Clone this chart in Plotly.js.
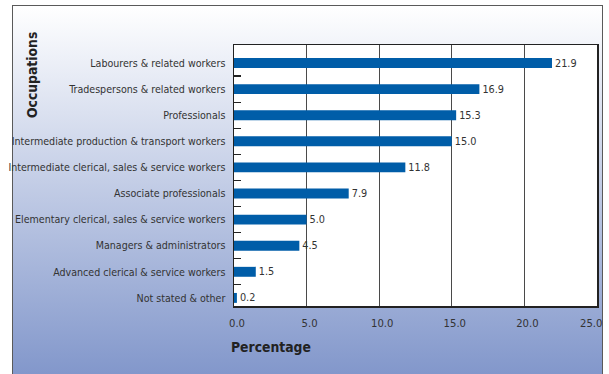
<!DOCTYPE html>
<html>
<head>
<meta charset="utf-8">
<script src="https://cdn.plot.ly/plotly-3.0.1.min.js"></script>
<style>
  html, body { margin: 0; padding: 0; background: #ffffff; width: 609px; height: 374px; overflow: hidden; }
  #frame { position: absolute; left: 12px; top: 5px; width: 591px; height: 380px;
           border: 1.5px solid #5a5a5a; box-sizing: border-box;
           background: linear-gradient(to bottom, #ffffff 0px, #8297cb 369px); }
  #chart { position: absolute; left: 0; top: 0; width: 609px; height: 374px; }
</style>
</head>
<body>
<div id="frame"></div>
<div id="chart"></div>
<script>
const categories = [
  "Labourers & related workers",
  "Tradespersons & related workers",
  "Professionals",
  "Intermediate production & transport workers",
  "Intermediate clerical, sales & service workers",
  "Associate professionals",
  "Elementary clerical, sales & service workers",
  "Managers & administrators",
  "Advanced clerical & service workers",
  "Not stated & other"
];
const percentages = [21.9, 16.9, 15.3, 15.0, 11.8, 7.9, 5.0, 4.5, 1.5, 0.2];
const xTickVals = [0, 5, 10, 15, 20, 25];
const xTickText = ["0.0", "5.0", "10.0", "15.0", "20.0", "25.0"];
const xTitle = "Percentage";
const yTitle = "Occupations";

const FONT = "'DejaVu Sans Condensed', 'DejaVu Sans', sans-serif";
const lastTick = xTickVals.length - 1;

const trace = {
  type: "bar",
  orientation: "h",
  y: categories,
  x: percentages,
  width: 0.38,
  marker: { color: "#005da8", line: { width: 0 } },
  text: percentages.map(v => v.toFixed(1)),
  textposition: "outside",
  constraintext: "none",
  cliponaxis: false,
  textfont: { family: FONT, size: 10.8, color: "#333333" },
  hoverinfo: "none"
};

const layout = {
  width: 609,
  height: 374,
  margin: { l: 234, r: 12, t: 45, b: 68 },
  paper_bgcolor: "rgba(0,0,0,0)",
  plot_bgcolor: "#ffffff",
  showlegend: false,
  font: { family: FONT, size: 11, color: "#333333" },
  xaxis: {
    range: [0, 25],
    tickmode: "array",
    tickvals: xTickVals,
    // last label is drawn as an annotation so it stays inside the frame
    ticktext: xTickText.map((t, i) => (i === lastTick ? "" : t)),
    ticks: "",
    showgrid: true,
    gridcolor: "#4a4a4a",
    gridwidth: 1,
    zeroline: false,
    showline: true,
    linecolor: "#222222",
    linewidth: 1.5,
    mirror: true,
    tickfont: { family: FONT, size: 11.2, color: "#333333" },
    ticklabelstandoff: 6,
    ticklabelshift: 3
  },
  yaxis: {
    type: "category",
    categoryorder: "array",
    categoryarray: categories,
    range: [9.31, -0.69],
    autorange: false,
    ticks: "",
    minor: {
      tickmode: "array",
      tickvals: [0.5, 1.5, 2.5, 3.5, 4.5, 5.5, 6.5, 7.5, 8.5],
      ticks: "inside",
      ticklen: 7,
      tickwidth: 1.2,
      tickcolor: "#222222",
      showgrid: false
    },
    showgrid: false,
    zeroline: false,
    showline: true,
    linecolor: "#222222",
    linewidth: 1.5,
    mirror: true,
    tickfont: { family: FONT, size: 10.6, color: "#333333" },
    ticklabelstandoff: 5
  },
  annotations: [
    {
      text: xTickText[lastTick], xref: "x", yref: "paper",
      x: xTickVals[lastTick], y: 0, xanchor: "right", yanchor: "top",
      xshift: 7, yshift: -9,
      showarrow: false,
      font: { family: FONT, size: 11.2, color: "#333333" }
    },
    {
      text: xTitle, xref: "paper", yref: "paper",
      x: 0, y: 0, xanchor: "left", yanchor: "middle",
      xshift: -5, yshift: -41,
      showarrow: false,
      font: { family: FONT, size: 13.8, color: "#222222", weight: "bold" }
    },
    {
      text: yTitle, xref: "paper", yref: "paper",
      x: 0, y: 1, xanchor: "center", yanchor: "middle",
      xshift: -202, yshift: -30, textangle: -90,
      showarrow: false,
      font: { family: FONT, size: 13.8, color: "#222222", weight: "bold" }
    }
  ]
};

Plotly.newPlot("chart", [trace], layout, { staticPlot: true, displayModeBar: false });
</script>
</body>
</html>
